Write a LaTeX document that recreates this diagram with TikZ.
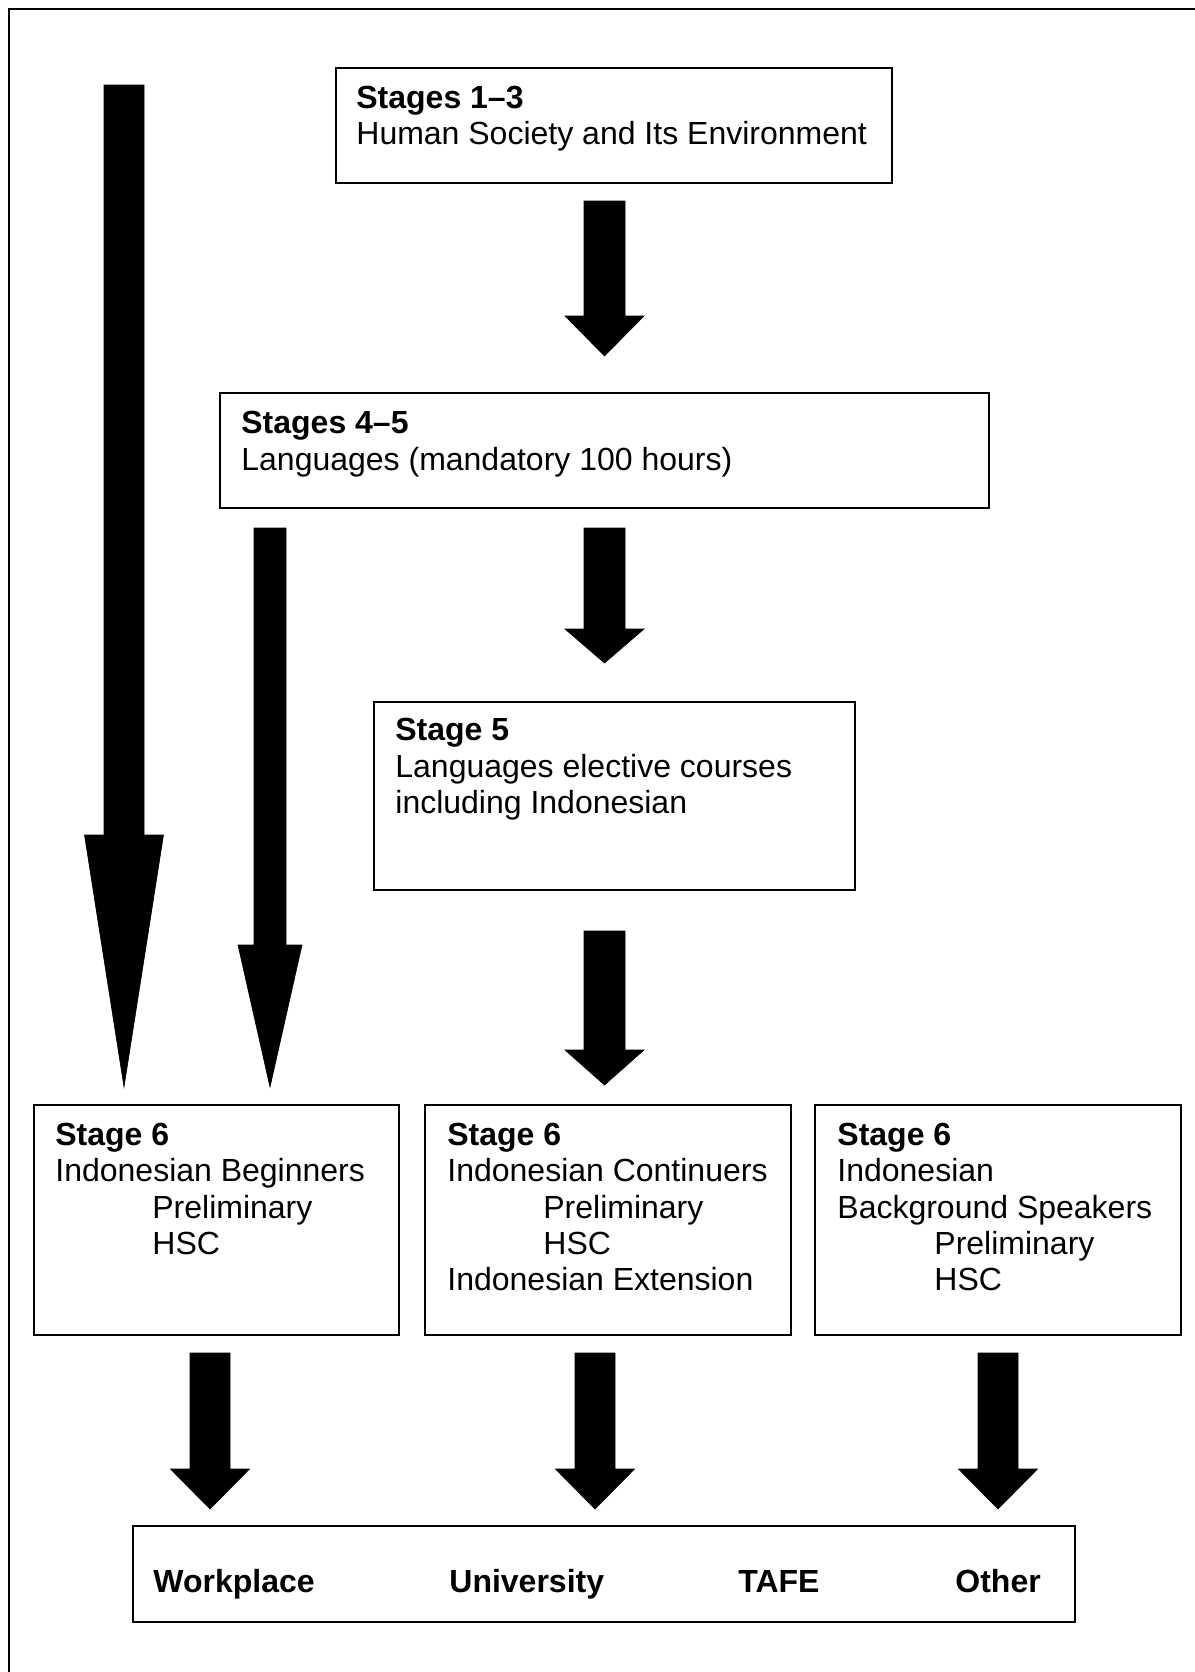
\documentclass[tikz,border=0pt]{standalone}
\usepackage{fontspec}
\setmainfont{Liberation Sans}
\usetikzlibrary{fit}
\newcommand\blockarrow[6]{% cx, top, headY, tip, shafthalf, headhalf
  \filldraw[blk] (#1-#5,#2) -- (#1+#5,#2) -- (#1+#5,#3) -- (#1+#6,#3) -- (#1,#4) -- (#1-#6,#3) -- (#1-#5,#3) -- cycle;}
\begin{document}
\begin{tikzpicture}[x=0.5pt,y=-0.5pt,
  box/.style={draw, line width=1.1pt, inner sep=0pt},
  txt/.style={anchor=base west, inner sep=0pt, font=\fontsize{16}{18}\selectfont},
  btxt/.style={anchor=base west, inner sep=0pt, font=\fontsize{16}{18}\selectfont\bfseries},
  blk/.style={fill=black, draw=black, line width=0.3pt, line join=miter}]
\useasboundingbox (0,0) rectangle (1195,1672);
\draw[line width=1pt] (9,1672) -- (9,9) -- (1195,9);

% boxes
\node[box, fit={(336,68) (892,183)}] (b1) {};
\node[box, fit={(220,393) (989,508)}] (b2) {};
\node[box, fit={(374,702) (855,890)}] (b3) {};
\node[box, fit={(34,1105) (399,1335)}] (b4) {};
\node[box, fit={(425,1105) (791,1335)}] (b5) {};
\node[box, fit={(815,1105) (1181,1335)}] (b6) {};
\node[box, fit={(133,1526) (1075,1622)}] (b7) {};

% texts
\node[btxt] (t11) at (356,108) {Stages 1–3};
\node[txt]  (t12) at (356,144) {Human Society and Its Environment};

\node[btxt] (t21) at (241,433) {Stages 4–5};
\node[txt]  (t22) at (241,470) {Languages (mandatory 100 hours)};

\node[btxt] (t31) at (395,740) {Stage 5};
\node[txt]  (t32) at (395,777) {Languages elective courses};
\node[txt]  (t33) at (395,813) {including Indonesian};

\node[btxt] (t41) at (55,1145) {Stage 6};
\node[txt]  (t42) at (55,1181) {Indonesian Beginners};
\node[txt]  (t43) at (152,1218) {Preliminary};
\node[txt]  (t44) at (152,1254) {HSC};

\node[btxt] (t51) at (447,1145) {Stage 6};
\node[txt]  (t52) at (447,1181) {Indonesian Continuers};
\node[txt]  (t53) at (543,1218) {Preliminary};
\node[txt]  (t54) at (543,1254) {HSC};
\node[txt]  (t55) at (447,1290) {Indonesian Extension};

\node[btxt] (t61) at (837,1145) {Stage 6};
\node[txt]  (t62) at (837,1181) {Indonesian};
\node[txt]  (t63) at (837,1218) {Background Speakers};
\node[txt]  (t64) at (934,1254) {Preliminary};
\node[txt]  (t65) at (934,1290) {HSC};

\node[btxt] (o1) at (153,1592) {Workplace};
\node[btxt] (o2) at (449,1592) {University};
\node[btxt] (o3) at (738,1592) {TAFE};
\node[btxt] (o4) at (955,1592) {Other};

% block arrows
\blockarrow{124}{85}{835}{1087}{20}{39.5}
\blockarrow{270}{528}{945}{1087}{16}{32}
\blockarrow{604.5}{201}{316}{356}{20.5}{39.5}
\blockarrow{604.5}{528}{629}{663}{20.5}{39.5}
\blockarrow{604.5}{931}{1050}{1085}{20.5}{39.5}
\blockarrow{210}{1353}{1469}{1509}{20}{39.5}
\blockarrow{595}{1353}{1469}{1509}{20}{39.5}
\blockarrow{998}{1353}{1469}{1509}{20}{39.5}
\end{tikzpicture}
\end{document}
